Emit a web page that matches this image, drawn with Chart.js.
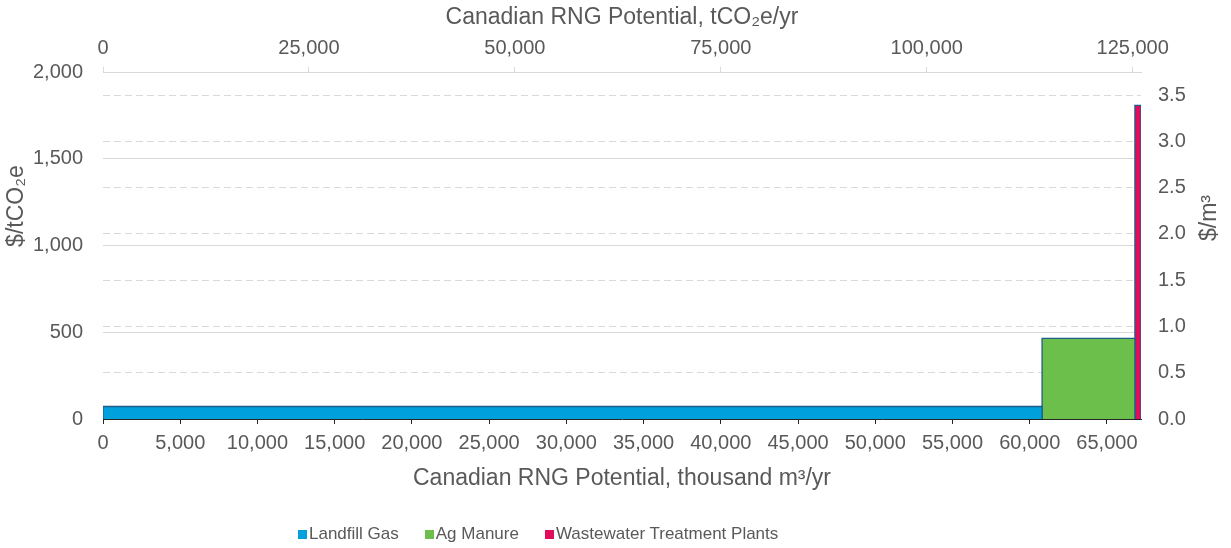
<!DOCTYPE html>
<html>
<head>
<meta charset="utf-8">
<title>Canadian RNG Potential</title>
<script src="https://cdn.jsdelivr.net/npm/chart.js@4/dist/chart.umd.min.js"></script>
<style>
  html, body { margin: 0; padding: 0; background: #fff; }
  #wrap { position: relative; width: 1231px; height: 548px; }
  #legend {
    position: absolute; left: 298px; top: 524px; height: 20px;
    display: flex; align-items: center; white-space: nowrap;
    font: 17px "Liberation Sans", Arial, sans-serif; color: #595959;
  }
  #legend .item { display: flex; align-items: center; margin-right: 26px; }
  #legend .sw { width: 9px; height: 9px; margin-right: 2px; }
</style>
</head>
<body>
<div id="wrap">
  <canvas id="c" width="1231" height="548"></canvas>
  <div id="legend"></div>
</div>
<script>
// Supply categories, their annual volume (thousand m³/yr) and cost ($/tCO2e)
const categories = ['Landfill Gas', 'Ag Manure', 'Wastewater Treatment Plants'];
const volumes = [60800, 6010, 395];
const costs = [72, 465, 1808];
const fillColors = ['#00a0dc', '#6cbf4b', '#e10c5c'];

// Tick values for each axis
const volumeTicks = [0, 5000, 10000, 15000, 20000, 25000, 30000, 35000, 40000, 45000, 50000, 55000, 60000, 65000];
const co2Ticks = [0, 25000, 50000, 75000, 100000, 125000];
const costTicks = [0, 500, 1000, 1500, 2000];
const perM3Ticks = [0, 0.5, 1.0, 1.5, 2.0, 2.5, 3.0, 3.5];

// tCO2e per thousand m³ of RNG
const co2PerThousandM3 = 1.875;
const costMax = 2000;

const FONT = '"Liberation Sans", Arial, sans-serif';
const TEXT = '#595959';
const EDGE = '#1f5d8a';
const GRID = '#d9d9d9';

Chart.defaults.font.family = FONT;
Chart.defaults.color = TEXT;

// Each category becomes a step block: width = volume, height = cost
let cursor = 0;
const datasets = categories.map((name, i) => {
  const x0 = cursor;
  const x1 = cursor + volumes[i];
  cursor = x1;
  return {
    label: name,
    data: [{ x: x0, y: 0 }, { x: x0, y: costs[i] }, { x: x1, y: costs[i] }, { x: x1, y: 0 }],
    backgroundColor: fillColors[i],
    borderColor: EDGE,
    borderWidth: 1.3,
    fill: 'origin',
    pointRadius: 0,
    pointHoverRadius: 0,
    tension: 0,
    xAxisID: 'x',
    yAxisID: 'y'
  };
});
const totalVolume = cursor;

const setTicks = values => scale => { scale.ticks = values.map(v => ({ value: v })); };
const fmt = v => Number(v).toLocaleString('en-US');

// Rotated titles for the two value axes
const sideTitles = {
  id: 'sideTitles',
  afterDraw(chart) {
    const { ctx, chartArea } = chart;
    const items = [
      { text: '$/tCO\u2082e', x: chartArea.left - 86, y: chartArea.top + 134 },
      { text: '$/m\u00b3', x: chartArea.right + 69, y: chartArea.top + 146 }
    ];
    ctx.save();
    ctx.fillStyle = TEXT;
    ctx.font = '23px ' + FONT;
    ctx.textAlign = 'center';
    ctx.textBaseline = 'middle';
    items.forEach(t => {
      ctx.save();
      ctx.translate(t.x, t.y);
      ctx.rotate(-Math.PI / 2);
      ctx.fillText(t.text, 0, 0);
      ctx.restore();
    });
    ctx.restore();
  }
};

// Legend built from the chart's datasets
const htmlLegend = {
  id: 'htmlLegend',
  afterUpdate(chart) {
    const box = document.getElementById('legend');
    box.innerHTML = '';
    chart.data.datasets.forEach(ds => {
      const item = document.createElement('span');
      item.className = 'item';
      const sw = document.createElement('span');
      sw.className = 'sw';
      sw.style.background = ds.backgroundColor;
      const label = document.createElement('span');
      label.textContent = ds.label;
      item.appendChild(sw);
      item.appendChild(label);
      box.appendChild(item);
    });
  }
};

new Chart(document.getElementById('c'), {
  type: 'line',
  data: { datasets },
  plugins: [sideTitles, htmlLegend],
  options: {
    responsive: false,
    animation: false,
    devicePixelRatio: 1,
    layout: { padding: 0 },
    plugins: { legend: { display: false }, tooltip: { enabled: false } },
    scales: {
      x: {
        type: 'linear',
        position: 'bottom',
        bounds: 'data',
        min: 0,
        max: totalVolume,
        z: 1,
        afterBuildTicks: setTicks(volumeTicks),
        afterFit: s => { s.height = 129; },
        ticks: { font: { size: 20 }, padding: 7, maxRotation: 0, autoSkip: false, callback: fmt },
        grid: { drawOnChartArea: false, drawTicks: true, tickLength: 5, tickColor: '#262626', tickWidth: 1 },
        border: { display: true, color: '#262626', width: 1 },
        title: {
          display: true,
          text: 'Canadian RNG Potential, thousand m\u00b3/yr',
          font: { size: 23 },
          color: TEXT,
          padding: { top: 0, bottom: 56 }
        }
      },
      x2: {
        type: 'linear',
        position: 'top',
        bounds: 'data',
        min: 0,
        max: totalVolume * co2PerThousandM3,
        afterBuildTicks: setTicks(co2Ticks),
        afterFit: s => { s.height = 72; },
        ticks: { font: { size: 20 }, padding: 7, maxRotation: 0, autoSkip: false, callback: fmt },
        grid: { drawOnChartArea: false, drawTicks: true, tickLength: 5, tickColor: GRID, tickWidth: 1 },
        border: { display: true, color: GRID, width: 1 },
        title: {
          display: true,
          text: 'Canadian RNG Potential, tCO\u2082e/yr',
          font: { size: 23 },
          color: TEXT,
          padding: { top: 4, bottom: 0 }
        }
      },
      y: {
        type: 'linear',
        position: 'left',
        bounds: 'data',
        min: 0,
        max: costMax,
        afterBuildTicks: setTicks(costTicks),
        afterFit: s => { s.width = 103; },
        ticks: { font: { size: 20 }, padding: 20, callback: fmt },
        grid: {
          drawTicks: false,
          lineWidth: 1,
          color: c => (c.tick && c.tick.value === 0 ? 'rgba(0,0,0,0)' : GRID)
        },
        border: { display: false }
      },
      y2: {
        type: 'linear',
        position: 'right',
        bounds: 'data',
        min: 0,
        max: costMax * co2PerThousandM3 / 1000,
        afterBuildTicks: setTicks(perM3Ticks),
        afterFit: s => { s.width = 90; },
        ticks: { font: { size: 20 }, padding: 17, callback: v => Number(v).toFixed(1) },
        grid: {
          drawTicks: false,
          lineWidth: 1,
          color: c => (c.tick && c.tick.value === 0 ? 'rgba(0,0,0,0)' : GRID)
        },
        border: { display: false, dash: [7, 4] }
      }
    }
  }
});
</script>
</body>
</html>
